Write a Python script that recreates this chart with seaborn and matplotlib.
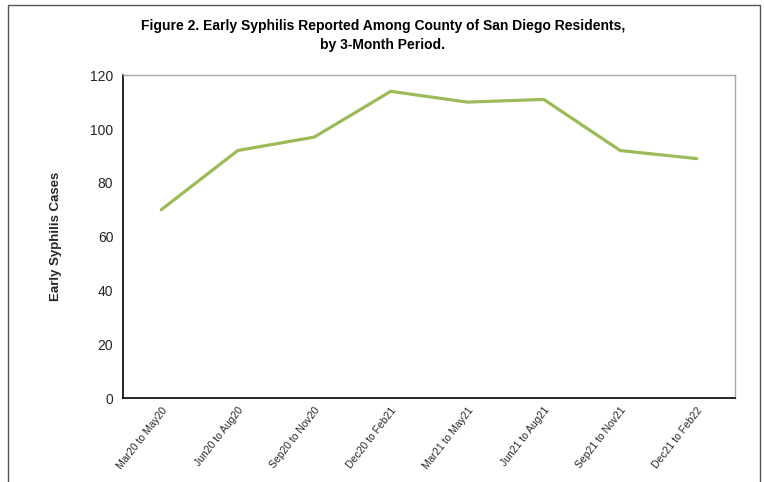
import matplotlib
matplotlib.use('Agg')
import matplotlib.pyplot as plt
import seaborn as sns
import pandas as pd
from matplotlib.patches import Rectangle

periods = ['Mar20 to May20', 'Jun20 to Aug20', 'Sep20 to Nov20', 'Dec20 to Feb21',
           'Mar21 to May21', 'Jun21 to Aug21', 'Sep21 to Nov21', 'Dec21 to Feb22']
cases = [70, 92, 97, 114, 110, 111, 92, 89]

df = pd.DataFrame({'period': periods, 'cases': cases})

sns.set_style('white')
plt.rcParams['font.family'] = ['Liberation Sans', 'DejaVu Sans']

fig = plt.figure(figsize=(7.64, 4.82), dpi=100)
ax = fig.add_axes([0.161, 0.174, 0.801, 0.670])

sns.lineplot(data=df, x='period', y='cases', color='#9BBB59', linewidth=2.3, ax=ax, sort=False)

ax.set_xlim(-0.5, len(periods) - 0.5)
ax.set_ylim(0, 120)
ax.set_yticks(range(0, 121, 20))
ax.set_xticks([i - 0.5 for i in range(len(periods) + 1)])
ax.set_xticklabels([])
ax.set_xticks(range(len(periods)), minor=True)
ax.set_xticklabels(periods, minor=True, rotation=52, ha='right', rotation_mode='anchor',
                   fontsize=7.5)
ax.tick_params(axis='x', which='major', direction='inout', length=6, width=1, color='black')
ax.tick_params(axis='x', which='minor', length=0, pad=5)
ax.tick_params(axis='y', direction='out', length=4, width=1, color='black', labelsize=10, pad=3)
ax.set_xlabel('')
ax.set_ylabel('Early Syphilis Cases', fontsize=9.5, fontweight='bold', labelpad=20)

for s in ['left', 'bottom']:
    ax.spines[s].set_color('black')
    ax.spines[s].set_linewidth(1.2)
for s in ['top', 'right']:
    ax.spines[s].set_color('#A6A6A6')
    ax.spines[s].set_linewidth(1)

fig.text(0.501, 0.946, 'Figure 2. Early Syphilis Reported Among County of San Diego Residents,',
         ha='center', va='center', fontsize=10, fontweight='bold', color='black')
fig.text(0.501, 0.907, 'by 3-Month Period.', ha='center', va='center', fontsize=10,
         fontweight='bold', color='black')

fig.patches.append(Rectangle((0.011, -0.05), 0.984, 1.04, transform=fig.transFigure,
                             fill=False, edgecolor='#555555', linewidth=1))

fig.savefig('out.png', dpi=100)
